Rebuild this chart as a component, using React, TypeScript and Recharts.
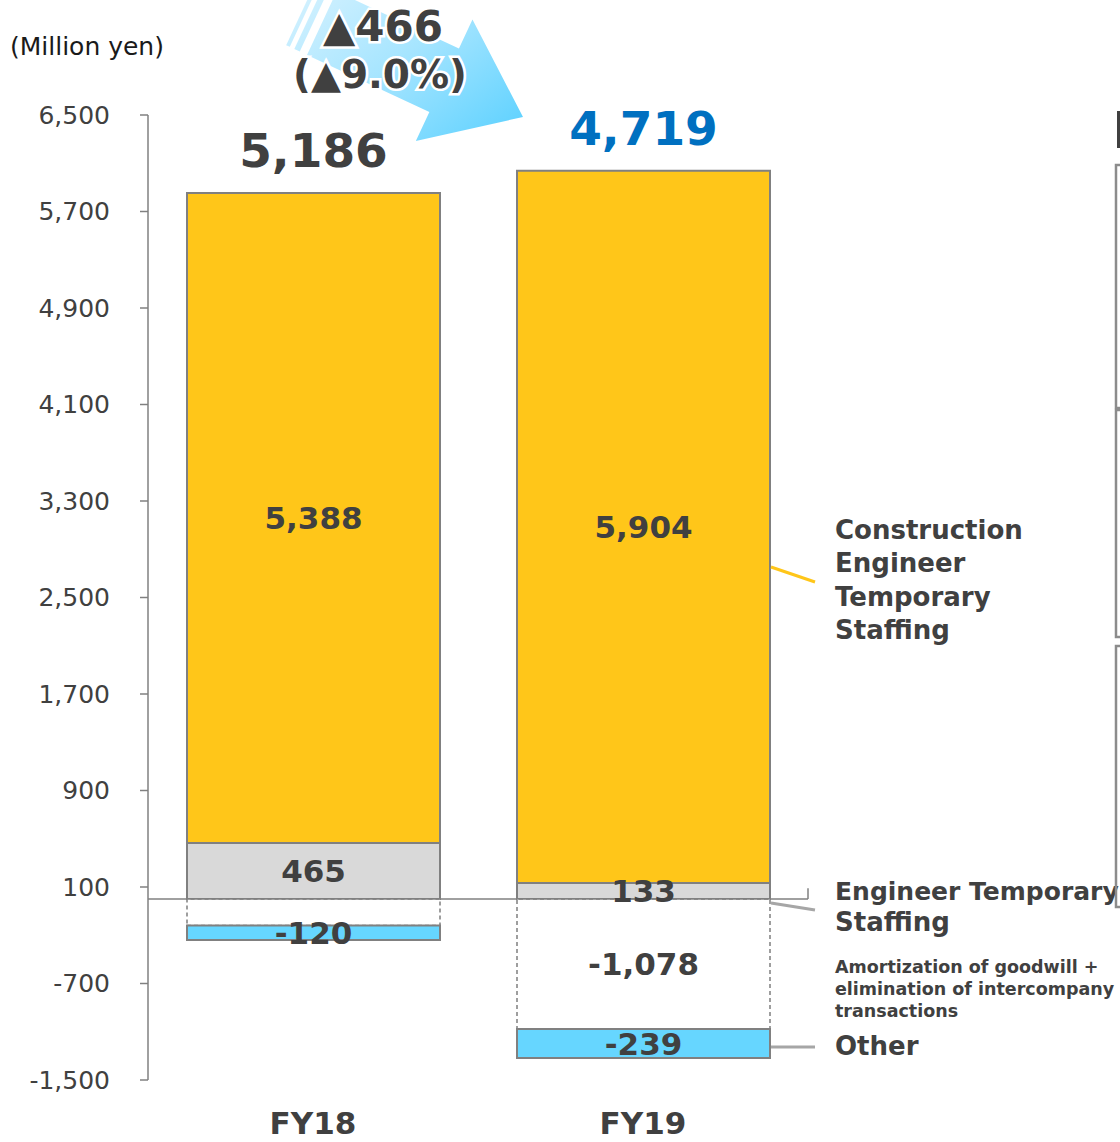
import { BarChart, Bar, XAxis, YAxis, ReferenceLine, LabelList } from 'recharts';

const categories = ['FY18', 'FY19'];
const staffing = [465, 133];
const construction = [5388, 5904];
const amortization = [-220, -1078];
const amortizationLabels = ['', '-1,078'];
const other = [-120, -239];
const totals = [5186, 4719];
const yTicks = [-1500, -700, 100, 900, 1700, 2500, 3300, 4100, 4900, 5700, 6500];
const boundaries = [1, 2];

const FONT = "'DejaVu Sans', Verdana, sans-serif";
const TEXT = '#404040';
const fmt = (v: any) => (typeof v === 'number' ? v.toLocaleString('en-US') : v);

const data = categories.map((name, i) => ({
  name,
  staffing: staffing[i],
  construction: construction[i],
  amortization: amortization[i],
  amortLabel: amortizationLabels[i],
  other: other[i],
  total: fmt(totals[i]),
}));

const totalColors = [TEXT, '#0070C0'];

function TotalLabel(p: any) {
  const vb = p.viewBox && p.viewBox.width != null ? p.viewBox : p;
  const i = typeof p.index === 'number' ? p.index : data.findIndex((d) => d.total === String(p.value));
  return (
    <text
      x={vb.x + vb.width / 2}
      y={vb.y - 26}
      textAnchor="middle"
      fontFamily={FONT}
      fontWeight="bold"
      fontSize={47}
      fill={totalColors[i] ?? TEXT}
    >
      {p.value}
    </text>
  );
}

const inBar = { fill: TEXT, fontSize: 31, fontWeight: 'bold', fontFamily: FONT };

function Arrow() {
  // striped arrow, local coords (x along arrow, tip at origin)
  return (
    <g transform="translate(523,117) rotate(25)">
      <defs>
        <linearGradient id="arrowGrad" gradientUnits="userSpaceOnUse" x1={-230} y1={-60} x2={-10} y2={50}>
          <stop offset="0%" stopColor="#D2F1FF" />
          <stop offset="45%" stopColor="#A6E5FF" />
          <stop offset="100%" stopColor="#5CD1FF" />
        </linearGradient>
      </defs>
      <polygon points="0,0 -87,-67 -87,-35 -222,-35 -222,35 -87,35 -87,67" fill="url(#arrowGrad)" />
      <rect x={-236} y={-35} width={6} height={70} fill="url(#arrowGrad)" />
      <rect x={-245} y={-35} width={4} height={70} fill="url(#arrowGrad)" />
    </g>
  );
}

export default function App() {
  return (
    <div style={{ position: 'absolute', left: 0, top: 0, width: 1120, height: 1142, background: '#fff', overflow: 'hidden' }}>
      <BarChart
        width={1120}
        height={1142}
        data={data}
        stackOffset="sign"
        barSize={253}
        margin={{ top: 115, right: 312, bottom: 32, left: 48 }}
      >
        <XAxis
          dataKey="name"
          axisLine={false}
          tickLine={false}
          tickSize={0}
          tickMargin={32}
          height={30}
          tick={{ fill: TEXT, fontSize: 31, fontWeight: 'bold', fontFamily: FONT }}
        />
        <XAxis xAxisId="grid" type="number" domain={[0, 2]} hide />
        <YAxis
          type="number"
          domain={[-1500, 6500]}
          ticks={yTicks}
          interval={0}
          width={100}
          tickFormatter={fmt}
          axisLine={{ stroke: '#808080', strokeWidth: 1.5 }}
          tickLine={{ stroke: '#808080', strokeWidth: 1.5 }}
          tickSize={8}
          tickMargin={30}
          tick={{ fill: TEXT, fontSize: 25, fontFamily: FONT }}
        />
        <Bar dataKey="staffing" stackId="a" fill="#D9D9D9" stroke="#808080" strokeWidth={2} isAnimationActive={false}>
          <LabelList dataKey="staffing" position="center" formatter={fmt} {...inBar} />
        </Bar>
        <Bar dataKey="construction" stackId="a" fill="#FFC619" stroke="#808080" strokeWidth={2} isAnimationActive={false}>
          <LabelList dataKey="construction" position="center" formatter={fmt} {...inBar} />
          <LabelList dataKey="total" position="top" content={TotalLabel} />
        </Bar>
        <Bar
          dataKey="amortization"
          stackId="a"
          fill="#FFFFFF"
          stroke="#7F7F7F"
          strokeWidth={1.5}
          strokeDasharray="4 3"
          isAnimationActive={false}
        >
          <LabelList dataKey="amortLabel" position="center" {...inBar} />
        </Bar>
        <Bar dataKey="other" stackId="a" fill="#66D6FF" stroke="#808080" strokeWidth={2} isAnimationActive={false}>
          <LabelList dataKey="other" position="center" formatter={fmt} {...inBar} />
        </Bar>
        <ReferenceLine y={0} stroke="#808080" strokeWidth={1.5} />
        {boundaries.map((b) => (
          <ReferenceLine
            key={b}
            xAxisId="grid"
            segment={[{ x: b, y: 0 }, { x: b, y: 90 }]}
            stroke="#808080"
            strokeWidth={1.5}
          />
        ))}
      </BarChart>

      <svg width={1120} height={1142} style={{ position: 'absolute', left: 0, top: 0, pointerEvents: 'none' }}>
        <Arrow />
        <g fontFamily={FONT} fontWeight="bold" fill={TEXT} stroke="#FFFFFF" strokeWidth={5} style={{ paintOrder: 'stroke' }} textAnchor="middle">
          <text x={383} y={41} fontSize={42}>▲466</text>
          <text x={380} y={88} fontSize={39}>(▲9.0%)</text>
        </g>
        <text x={10} y={55} fontFamily={FONT} fontSize={25} fill="#1A1A1A">(Million yen)</text>

        <line x1={771} y1={567} x2={815} y2={582} stroke="#FFC619" strokeWidth={3} />
        <line x1={771} y1={903} x2={815} y2={910} stroke="#A6A6A6" strokeWidth={3} />
        <line x1={771} y1={1047} x2={815} y2={1047} stroke="#A6A6A6" strokeWidth={3} />

        <g fontFamily={FONT} fontWeight="bold" fill={TEXT} fontSize={26}>
          <text x={835} y={539}>Construction</text>
          <text x={835} y={572}>Engineer</text>
          <text x={835} y={606}>Temporary</text>
          <text x={835} y={639}>Staffing</text>
          <text x={835} y={900} fontSize={25}>Engineer Temporary</text>
          <text x={835} y={931}>Staffing</text>
          <text x={835} y={1055}>Other</text>
        </g>
        <g fontFamily={FONT} fontWeight="bold" fill={TEXT} fontSize={17.5}>
          <text x={835} y={973}>Amortization of goodwill +</text>
          <text x={835} y={995}>elimination of intercompany</text>
          <text x={835} y={1017}>transactions</text>
        </g>

        <rect x={1117} y={111} width={4} height={37} fill={TEXT} />
        <g fill="none" stroke="#8C8C8C" strokeWidth={2.5}>
          <rect x={1116} y={165} width={20} height={243} />
          <rect x={1116} y={410} width={20} height={227} />
          <rect x={1116} y={646} width={20} height={261} />
        </g>
      </svg>
    </div>
  );
}
